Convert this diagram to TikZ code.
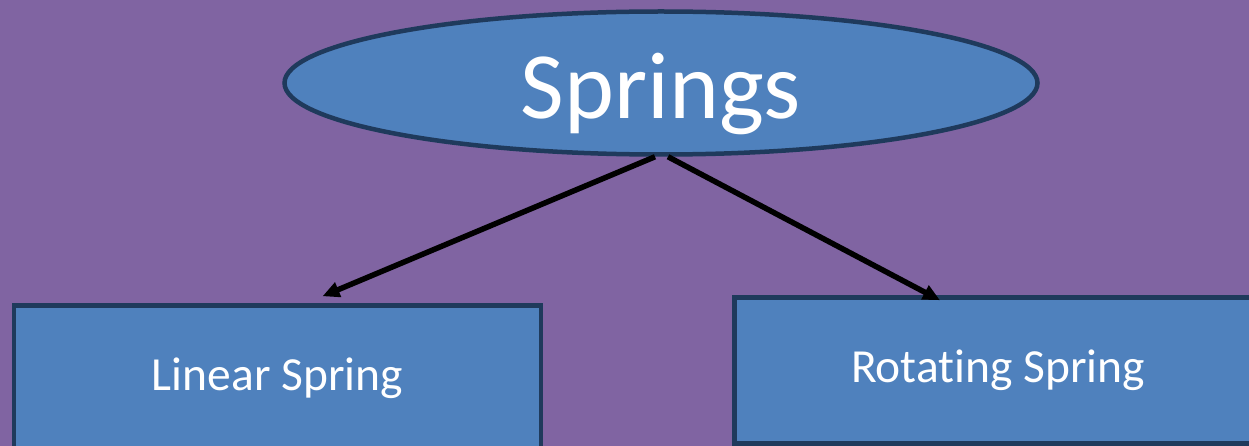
\documentclass[tikz,border=0pt]{standalone}
\usepackage{fontspec}
\setmainfont{Carlito}[Ligatures=NoCommon]
\usetikzlibrary{shapes.geometric,arrows.meta,calc}
\definecolor{bgpurple}{HTML}{8064A2}
\definecolor{boxblue}{HTML}{4F81BD}
\definecolor{boxedge}{HTML}{1F3A5C}
\tikzset{
  topnode/.style={ellipse, draw=boxedge, line width=4.5pt, fill=boxblue, text=white,
    minimum width=753pt, minimum height=143pt, inner sep=0pt},
  leafbox/.style={rectangle, draw=boxedge, line width=4.5pt, fill=boxblue, text=white,
    minimum width=527pt, minimum height=146pt, inner sep=0pt, font=\fontsize{47.5}{50}\selectfont},
  conn/.style={line width=5.5pt, black, -{Triangle[length=17pt,width=15pt]}}
}
\begin{document}
\begin{tikzpicture}[x=1pt,y=-1pt]
\fill[bgpurple] (0,0) rectangle (1249,446);
\useasboundingbox (0,0) rectangle (1249,446);
\begin{scope}
\clip (0,0) rectangle (1249,446);
\node[topnode] (top) at (661,83) {};
\node[text=white, font=\fontsize{95}{100}\selectfont, inner sep=0pt] (toplabel) at (661,94) {Springs};
\node[leafbox] (lin) at (277.5,378.5) {Linear Spring};
\node[leafbox] (rot) at (998,370.5) {Rotat\kern0pt ing Spring};
\coordinate (ls) at ($(top.south)+(-6,0)$);
\coordinate (rs) at ($(top.south)+(7,0)$);
\coordinate (lt) at ($(lin.north)+(45,-7)$);
\coordinate (rt) at ($(rot.north)+(-58,5)$);
\draw[conn] (ls) -- (lt);
\draw[conn] (rs) -- (rt);
\end{scope}
\end{tikzpicture}
\end{document}
